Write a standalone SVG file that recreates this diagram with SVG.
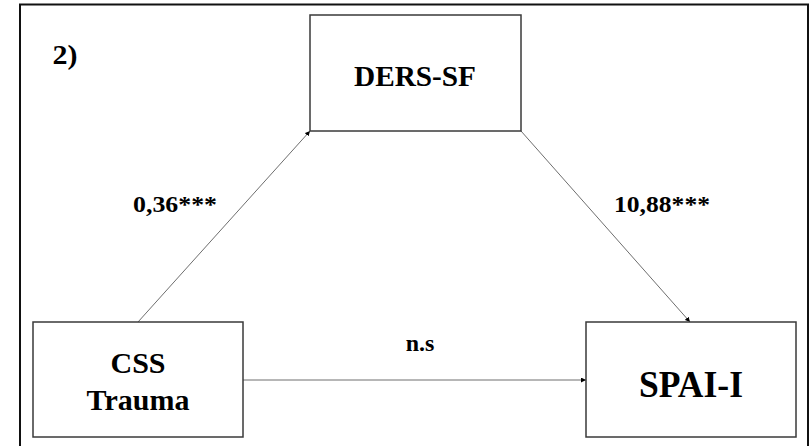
<svg xmlns="http://www.w3.org/2000/svg" width="812" height="446" viewBox="0 0 812 446">
<style>
.box{fill:#fff;stroke:#3a3a3a;stroke-width:1.5}
.t{font-family:'Liberation Serif','Times New Roman',Times,serif;font-weight:700;fill:#000;text-anchor:middle}
.edge{stroke:#6e6e6e;stroke-width:1;fill:none;marker-end:url(#ah)}
</style>
<defs>
<marker id="ah" viewBox="0 0 10 10" refX="10" refY="5" markerWidth="5" markerHeight="5" orient="auto" markerUnits="userSpaceOnUse">
<path d="M0,0 L10,5 L0,10 z" fill="#000"/>
</marker>
</defs>
<rect x="0" y="0" width="812" height="446" fill="#fff"/>
<rect id="frame" x="20" y="4.5" width="788" height="450" fill="none" stroke="#111" stroke-width="2"/>
<text class="t" x="65" y="64" font-size="27" textLength="25" lengthAdjust="spacingAndGlyphs">2)</text>
<g id="connectors">
<line class="edge" x1="138" y1="322" x2="310" y2="131"/>
<line class="edge" x1="521" y1="131" x2="690" y2="322"/>
<line class="edge" x1="243" y1="380" x2="586" y2="380"/>
<text class="t" x="175" y="212" font-size="24" textLength="84" lengthAdjust="spacingAndGlyphs">0,36***</text>
<text class="t" x="662" y="212" font-size="24" textLength="96" lengthAdjust="spacingAndGlyphs">10,88***</text>
<text class="t" x="420" y="351" font-size="24">n.s</text>
</g>
<g id="ders">
<rect class="box" x="310" y="15" width="211" height="116"/>
<text class="t" x="415" y="86" font-size="29" textLength="122" lengthAdjust="spacingAndGlyphs">DERS-SF</text>
</g>
<g id="css">
<rect class="box" x="33" y="322" width="210" height="115"/>
<text class="t" x="138" y="373" font-size="30">CSS</text>
<text class="t" x="138" y="410" font-size="30">Trauma</text>
</g>
<g id="spai">
<rect class="box" x="586" y="322" width="210" height="115"/>
<text class="t" x="691" y="397" font-size="38" textLength="104" lengthAdjust="spacingAndGlyphs">SPAI-I</text>
</g>
</svg>
